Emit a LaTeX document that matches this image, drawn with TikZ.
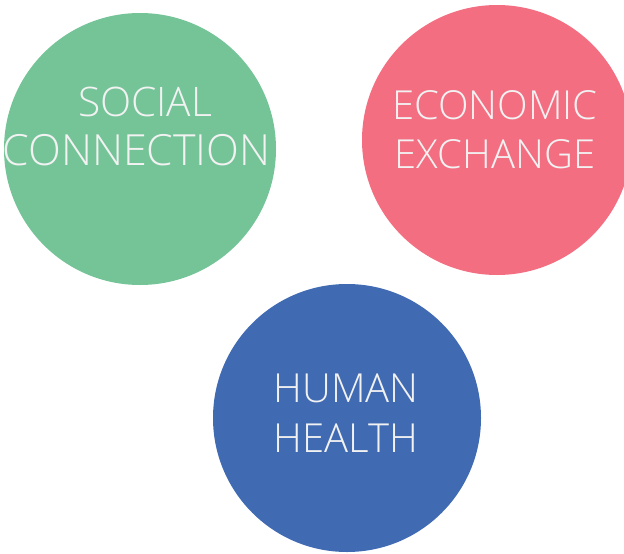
\documentclass[tikz,border=0pt]{standalone}
\usepackage{fontspec}
\setmainfont{Open Sans Light}
\definecolor{cgreen}{HTML}{74C498}
\definecolor{cred}{HTML}{F46E82}
\definecolor{cblue}{HTML}{406BB3}
\tikzset{blob/.style={circle,inner sep=0pt,minimum size=#1*0.75pt},
lab/.style={text=white!95!black,align=center,font=\fontsize{30}{37}\selectfont,inner sep=0pt}}
\begin{document}
\begin{tikzpicture}[x=0.75pt,y=-0.75pt]
\useasboundingbox (0,0) rectangle (624,553);
\node[blob=272,fill=cgreen] (a) at (140,149) {};
\node[blob=270,fill=cred] (b) at (497,140) {};
\node[blob=268,fill=cblue] (c) at (347,418) {};
\node[lab] (ta) at (136.5,126.5) {\hspace*{13pt}{\fontsize{30.5}{37}\selectfont SOCIAL}\\{\fontsize{32.2}{37}\selectfont CONNECTION}};
\node[lab] (tb) at (495,130) {ECONOMIC\\EXCHANGE};
\node[lab] (tc) at (346,413) {HUMAN\\HEALTH};
\end{tikzpicture}
\end{document}
